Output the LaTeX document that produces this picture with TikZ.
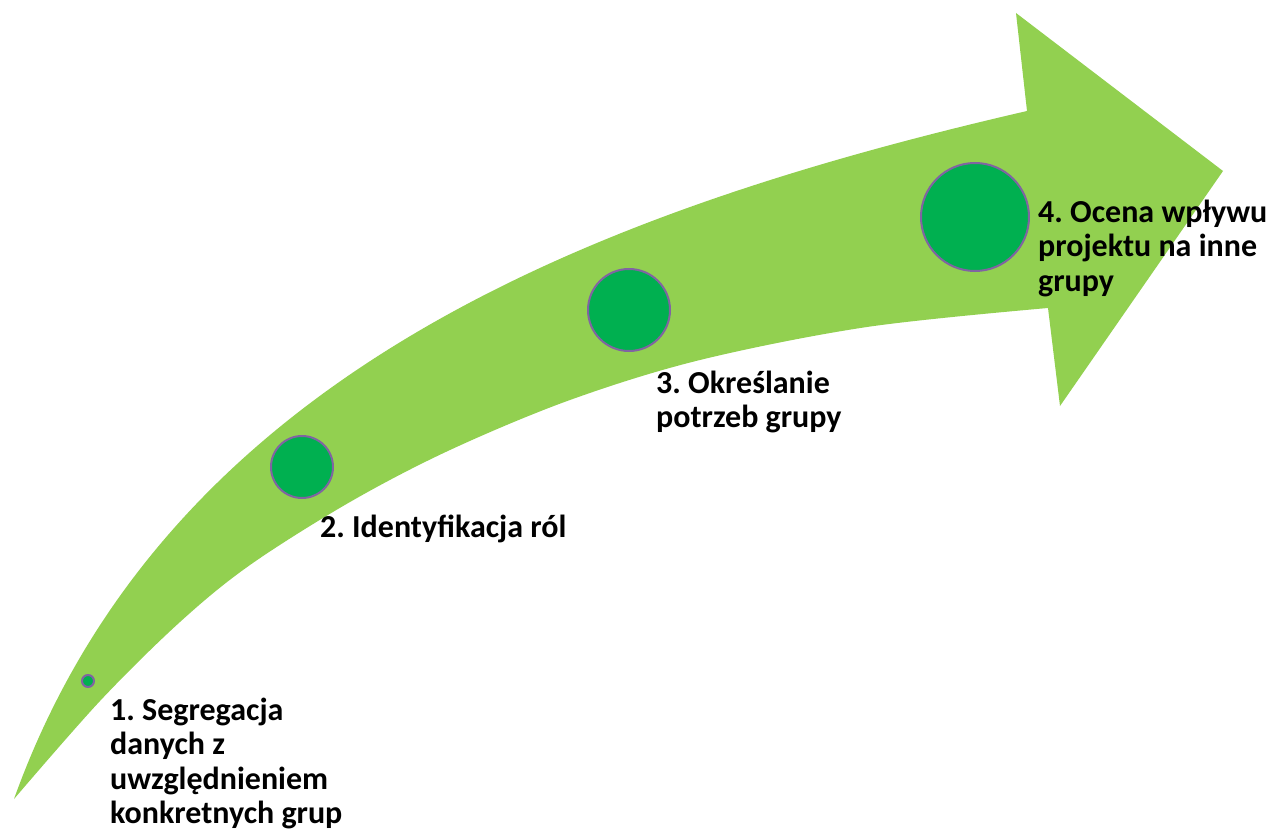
\documentclass[tikz,border=0pt]{standalone}
\usepackage{fontspec}
\setmainfont{Carlito}
\frenchspacing
\definecolor{shaftgreen}{HTML}{92D050}
\definecolor{dotgreen}{HTML}{00B050}
\definecolor{dotrim}{HTML}{8064A2}
\begin{document}
\begin{tikzpicture}[x=1pt,y=-1pt,
  dot/.style={circle,fill=dotgreen,draw=dotrim,line width=2pt,inner sep=0pt},
  steplabel/.style={anchor=base west,inner sep=0pt,align=left,
    font=\fontsize{32}{34.5}\selectfont\bfseries}]
\useasboundingbox (0,0) rectangle (1270,832);
% curved arrow: upper edge, head, lower edge back to the tail
\fill[shaftgreen] (14,799) .. controls (166,376) and (589,212) .. (1027,111)
  -- (1016,13) -- (1223,171) -- (1060,406) -- (1048,308)
  -- plot[smooth,tension=0.55] coordinates {(1048,308) (867,327) (700,360) (570,400)
     (450,450) (350,502) (250,565) (180,622) (100,701) (14,799)}
  -- cycle;
% milestones
\node[dot,minimum size=12pt] (c1) at (88,681) {};
\node[dot,minimum size=62pt] (c2) at (302,467) {};
\node[dot,minimum size=82pt] (c3) at (629,310) {};
\node[dot,minimum size=108pt] (c4) at (975,217) {};
% labels (base anchor sits on the last line)
\node[steplabel] (t1) at (110,823.5) {1. Segregacja\\danych z\\uwzględnieniem\\konkretnych grup};
\node[steplabel] (t2) at (320,537) {2. Identyfikacja ról};
\node[steplabel] (t3) at (656,427.5) {3. Określanie\\potrzeb grupy};
\node[steplabel] (t4) at (1038,291) {4. Ocena wpływu\\projektu na inne\\grupy};
\end{tikzpicture}
\end{document}
